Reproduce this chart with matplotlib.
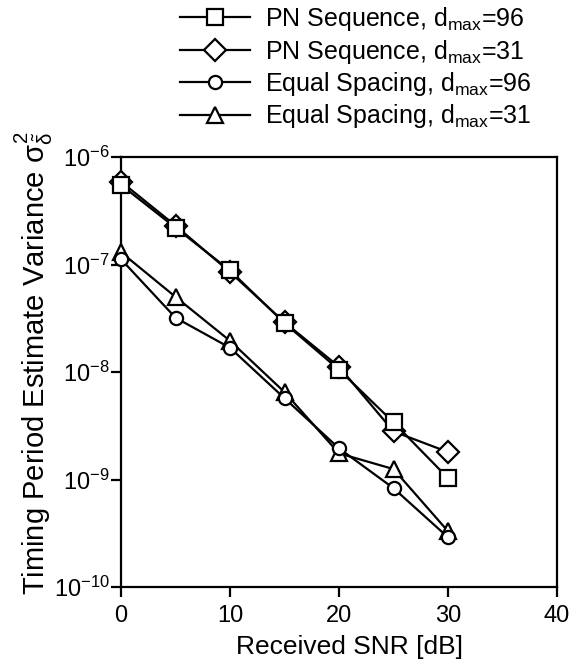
import numpy as np
import matplotlib
matplotlib.use("Agg")
import matplotlib.pyplot as plt
from matplotlib.ticker import FixedLocator, FixedFormatter

plt.rcParams["font.family"] = ["Liberation Sans", "DejaVu Sans"]
plt.rcParams["mathtext.fontset"] = "custom"
plt.rcParams["mathtext.rm"] = "Liberation Sans"
plt.rcParams["mathtext.it"] = "Liberation Sans"
plt.rcParams["mathtext.bf"] = "Liberation Sans:bold"
plt.rcParams["axes.unicode_minus"] = False

# data
snr_db = [0, 5, 10, 15, 20, 25, 30]
pn_96 = [5.5e-7, 2.2e-7, 8.8e-8, 2.85e-8, 1.05e-8, 3.4e-9, 1.03e-9]
pn_31 = [5.9e-7, 2.3e-7, 8.5e-8, 2.9e-8, 1.12e-8, 2.8e-9, 1.8e-9]
eq_96 = [1.12e-7, 3.2e-8, 1.68e-8, 5.7e-9, 1.95e-9, 8.3e-10, 2.9e-10]
eq_31 = [1.3e-7, 5.0e-8, 1.95e-8, 6.5e-9, 1.75e-9, 1.25e-9, 3.3e-10]

labels = [
    r"PN Sequence, d$_{\mathregular{max}}$=96",
    r"PN Sequence, d$_{\mathregular{max}}$=31",
    r"Equal Spacing, d$_{\mathregular{max}}$=96",
    r"Equal Spacing, d$_{\mathregular{max}}$=31",
]
x_ticks = [0, 10, 20, 30, 40]
y_ticks = [1e-10, 1e-9, 1e-8, 1e-7, 1e-6]
y_tick_labels = [r"10$^{\mathregular{-10}}$", r"10$^{\mathregular{-9}}$",
                 r"10$^{\mathregular{-8}}$", r"10$^{\mathregular{-7}}$",
                 r"10$^{\mathregular{-6}}$"]

fig = plt.figure(figsize=(5.88, 6.69), dpi=100)
ax = fig.add_axes([121 / 588, 1 - 587 / 669, 436 / 588, 430 / 669])

style = dict(color="black", lw=1.6, mfc="white", mec="black", mew=1.6, clip_on=False)
h1, = ax.plot(snr_db, pn_96, marker="s", ms=11, zorder=5, **style)
h2, = ax.plot(snr_db, pn_31, marker="D", ms=11, zorder=4, **style)
h3, = ax.plot(snr_db, eq_96, marker="o", ms=9.5, zorder=5, **style)
h4, = ax.plot(snr_db, eq_31, marker="^", ms=11, zorder=4, **style)

ax.set_yscale("log")
ax.set_xlim(0, 40)
ax.set_ylim(1e-10, 1e-6)
ax.xaxis.set_major_locator(FixedLocator(x_ticks))
ax.yaxis.set_major_locator(FixedLocator(y_ticks))
ax.yaxis.set_major_formatter(FixedFormatter(y_tick_labels))
ax.yaxis.set_minor_locator(FixedLocator([]))

for s in ax.spines.values():
    s.set_linewidth(1.6)
ax.tick_params(axis="both", which="major", direction="out", length=7, width=1.6,
               labelsize=17)
ax.tick_params(axis="x", pad=6)
ax.tick_params(axis="y", pad=1)

ax.set_xlabel("Received SNR [dB]", fontsize=19)
ax.xaxis.set_label_coords(0.525, -0.112)
ax.set_ylabel(r"Timing Period Estimate Variance $\sigma_{\tilde{\delta}}^{\mathregular{2}}$",
              fontsize=21)
ax.yaxis.set_label_coords(-0.152, 0.52)

fig.legend([h1, h2, h3, h4], labels, loc="upper left",
           bbox_to_anchor=(180 / 588, 1 - 5 / 669), frameon=False,
           fontsize=18, handlelength=2.8, handletextpad=0.6,
           borderpad=0, borderaxespad=0, labelspacing=0.18)

fig.savefig("out.png", dpi=100)
